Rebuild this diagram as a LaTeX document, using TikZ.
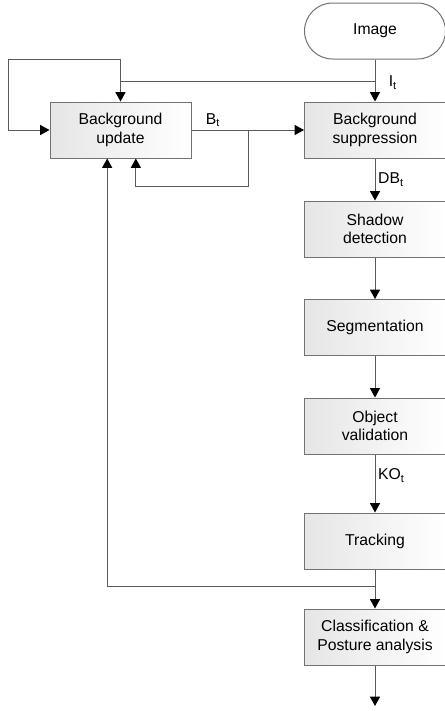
\documentclass[tikz,border=0pt]{standalone}
\usepackage{fontspec}
\setmainfont{Liberation Sans}
\usetikzlibrary{arrows.meta}

\begin{document}
\begin{tikzpicture}[x=0.75pt, y=-0.75pt,
  every node/.style={font=\fontsize{11.8}{14}\selectfont},
  stage/.style={draw=black!55, line width=0.75pt, left color=black!10, right color=white,
    minimum width=105.75pt, minimum height=42pt, inner sep=0pt, align=center},
  terminal/.style={stage, fill=white, left color=white, rounded corners=21pt},
  link/.style={draw=black!65, line width=0.75pt},
  arr/.style={link, -{Triangle[length=7pt, width=7.5pt, black]}},
  lbl/.style={inner sep=2pt}]
  \useasboundingbox (0,0) rectangle (444,711);
  \node[terminal] (img) at (375,31) {Image};
  \node[stage] (bgs) at (375,130) {Background\\suppression};
  \node[stage] (bgu) at (120.5,130) {Background\\update};
  \node[stage] (shd) at (375,229) {Shadow\\detection};
  \node[stage] (seg) at (375,327.5) {Segmentation};
  \node[stage] (obj) at (375,426) {Object\\validation};
  \node[stage] (trk) at (375,541) {Tracking};
  \node[stage] (cls) at (375,637) {Classification \&\\Posture analysis};
  \coordinate (jI) at (375,81);
  \coordinate (uTop) at (120.5,59);
  \coordinate (uLeft) at (8,59);
  \coordinate (jB) at (248,130);
  \coordinate (jBlow) at (248,186);
  \coordinate (jT) at (375,586);
  \coordinate (out) at (375,706);
  \draw[arr] (img) -- node[lbl, right, pos=0.55, xshift=8pt] {I\textsubscript{t}} (bgs);
  \draw[link] (jI) -- (jI -| bgu.north);
  \draw[arr] (uTop) -- (bgu.north);
  \draw[arr] (uTop) -- (uLeft) |- (bgu.west);
  \draw[arr] (bgu) -- node[lbl, above, pos=0.19] {B\textsubscript{t}} (bgs);
  \draw[arr] (jB) -- (jBlow) -| ([xshift=11.5pt]bgu.south);
  \draw[arr] (bgs) -- node[lbl, right, pos=0.5] {DB\textsubscript{t}} (shd);
  \draw[arr] (shd) -- (seg);
  \draw[arr] (seg) -- (obj);
  \draw[arr] (obj) -- node[lbl, right, pos=0.36] {KO\textsubscript{t}} (trk);
  \draw[arr] (trk) -- (cls);
  \draw[arr] (jT) -| ([xshift=-10pt]bgu.south);
  \draw[arr] (cls) -- (out);
\end{tikzpicture}
\end{document}
